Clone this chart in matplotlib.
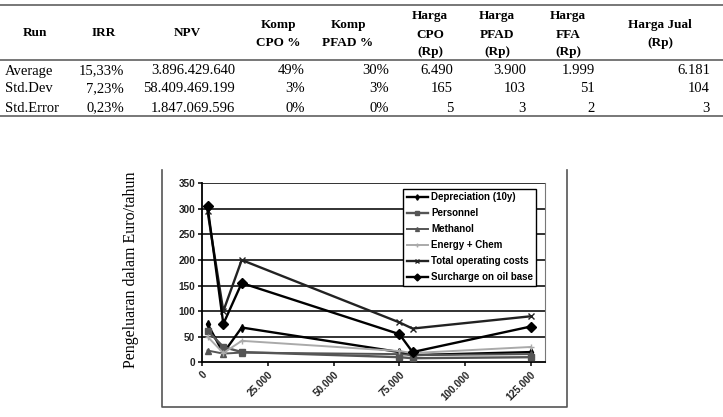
import matplotlib
matplotlib.use("Agg")
import matplotlib.pyplot as plt
from matplotlib.lines import Line2D

# table data
header_lines = [
    ["Run"], ["IRR"], ["NPV"], ["Komp", "CPO %"], ["Komp", "PFAD %"],
    ["Harga", "CPO", "(Rp)"], ["Harga", "PFAD", "(Rp)"], ["Harga", "FFA", "(Rp)"],
    ["Harga Jual", "(Rp)"],
]
row_names = ["Average", "Std.Dev", "Std.Error"]
irr = ["15,33%", "7,23%", "0,23%"]
npv = ["3.896.429.640", "58.409.469.199", "1.847.069.596"]
komp_cpo = ["49%", "3%", "0%"]
komp_pfad = ["30%", "3%", "0%"]
harga_cpo = ["6.490", "165", "5"]
harga_pfad = ["3.900", "103", "3"]
harga_ffa = ["1.999", "51", "2"]
harga_jual = ["6.181", "104", "3"]

# chart data
capacity = [2000, 8000, 15000, 75000, 80000, 125000]
depreciation = [75, 18, 68, 20, 14, 20]
personnel = [62, 30, 20, 10, 8, 10]
methanol = [23, 17, 19, 16, 14, 16]
energy_chem = [50, 18, 42, 22, 18, 30]
total_operating = [295, 100, 200, 78, 66, 90]
surcharge = [305, 75, 155, 55, 20, 70]
x_ticks = [0, 25000, 50000, 75000, 100000, 125000]
x_tick_labels = ["0", "25.000", "50.000", "75.000", "100.000", "125.000"]
y_ticks = [0, 50, 100, 150, 200, 250, 300, 350]

W, H = 723, 417
fig = plt.figure(figsize=(W / 100, H / 100), dpi=100)


def fx(px):
    return px / W


def fy(py):
    return 1 - py / H


# ---- table ----
for y in [5, 60, 116]:
    fig.add_artist(Line2D([0, 1], [fy(y), fy(y)], color="#777777", lw=1.4))

header_x = [35, 104, 187, 278, 348, 430, 497, 568, 660]
data_right = [124, 235, 305, 389, 453, 526, 595, 710]
line_ys = {1: [33], 2: [25, 43], 3: [16, 35, 52]}
for cx, lines in zip(header_x, header_lines):
    for txt, y in zip(lines, line_ys[len(lines)]):
        fig.text(fx(cx), fy(y), txt, ha="center", va="center",
                 family="Liberation Serif", fontweight="bold", fontsize=9.5)

row_y = [71, 89, 108]
columns = [irr, npv, komp_cpo, komp_pfad, harga_cpo, harga_pfad, harga_ffa, harga_jual]
for i, name in enumerate(row_names):
    fig.text(fx(5), fy(row_y[i]), name, ha="left", va="center",
             family="Liberation Serif", fontsize=10.5)
    for col, xr in zip(columns, data_right):
        fig.text(fx(xr), fy(row_y[i]), col[i], ha="right", va="center",
                 family="Liberation Serif", fontsize=10.5)

# ---- chart frame ----
frame = [(162, 170), (162, 407), (567, 407), (567, 170)]
fig.add_artist(Line2D([fx(p[0]) for p in frame], [fy(p[1]) for p in frame],
                      color="#555555", lw=1.2))

fig.text(fx(131), fy(270), "Pengeluaran dalam Euro/tahun", rotation=90,
         ha="center", va="center", family="Liberation Serif", fontsize=11.5)

ax = fig.add_axes([fx(202.3), fy(362.3), fx(545 - 202.3), (362.3 - 183.3) / H])
ax.set_xlim(0, 130400)
ax.set_ylim(0, 350)

for v in y_ticks[1:]:
    ax.axhline(v, color="#222222", lw=1.3, zorder=1)

ax.plot(capacity, depreciation, color="black", lw=1.7, marker="d", ms=4,
        label="Depreciation (10y)", zorder=3)
ax.plot(capacity, personnel, color="#555555", lw=1.7, marker="s", ms=4.5,
        label="Personnel", zorder=3)
ax.plot(capacity, methanol, color="#555555", lw=1.4, marker="^", ms=4,
        label="Methanol", zorder=3)
ax.plot(capacity, energy_chem, color="#aaaaaa", lw=1.4, marker="+", ms=4,
        label="Energy + Chem", zorder=3)
ax.plot(capacity, total_operating, color="#222222", lw=1.7, marker="x", ms=5,
        label="Total operating costs", zorder=3)
ax.plot(capacity, surcharge, color="black", lw=1.7, marker="D", ms=5,
        label="Surcharge on oil base", zorder=3)

ax.spines["top"].set_visible(False)
ax.spines["right"].set_color("#777777")
ax.spines["left"].set_color("black")
ax.spines["bottom"].set_color("black")
ax.spines["left"].set_linewidth(1.3)
ax.spines["bottom"].set_linewidth(1.3)

ax.set_yticks(y_ticks)
ax.set_yticklabels([str(v) for v in y_ticks], fontsize=7.2, fontweight="bold",
                   family="Liberation Sans", color="#222222")
ax.set_xticks(x_ticks)
ax.set_xticklabels(x_tick_labels, rotation=45, ha="right", rotation_mode="anchor",
                   fontsize=7.2, fontweight="bold", family="Liberation Sans",
                   color="#222222")
ax.tick_params(length=3, width=1.1, pad=2)

leg = ax.legend(loc="upper right", bbox_to_anchor=(0.975, 0.97), fancybox=False,
                edgecolor="black", framealpha=1, borderaxespad=0,
                prop={"family": "Liberation Sans", "weight": "bold", "size": 7},
                handlelength=2.2, handletextpad=0.3, labelspacing=0.62,
                borderpad=0.35, markerscale=0.7)
leg.get_frame().set_linewidth(1.0)

fig.savefig("out.png", dpi=100)
